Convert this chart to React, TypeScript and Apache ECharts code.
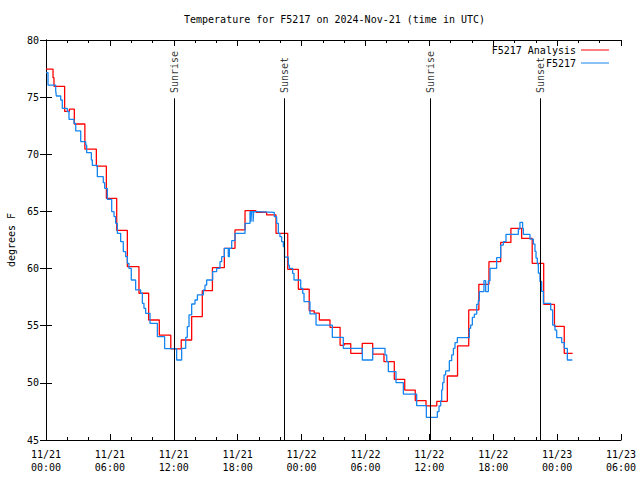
import React, { useEffect, useRef } from 'react';
import * as echarts from 'echarts';

// Hours since 2024-11-21 00:00 UTC
const dayLabels = ['11/21', '11/22', '11/23'];
const yTicks = { min: 45, max: 80, interval: 5 };
const xRange = { min: 0, max: 54, interval: 6 };

const analysisName = 'F5217 Analysis';
const obsName = 'F5217';

// F5217 Analysis (hour, degF)
const analysisData: [number, number][] = [
  [0, 77.45], [0.66, 76.7], [0.75, 75.95], [1.75, 73.75], [2.19, 73.95], [2.66, 72.65],
  [3.65, 70.45], [4.73, 68.97], [5.67, 66.15], [6.64, 63.35], [7.64, 60.17], [8.73, 57.84],
  [9.64, 55.5], [10.64, 54.17], [11.72, 52.97], [12.7, 53.75], [13.68, 55.8], [14.68, 58.07],
  [15.63, 60.08], [16.75, 61.77], [17.75, 63.38], [18.69, 65.07], [19.72, 64.93], [20.72, 64.69],
  [21.6, 63.08], [22.7, 59.93], [23.7, 58.19], [24.72, 56.3], [25.19, 56.1], [25.67, 55.5],
  [26.67, 54.86], [27.62, 53.28], [28.0, 53.42], [28.62, 52.58], [29.7, 53.46], [30.68, 52.52],
  [31.74, 51.85], [32.71, 50.31], [33.69, 49.37], [34.68, 48.45], [35.69, 47.98], [36.7, 48.38],
  [37.69, 50.6], [38.65, 53.23], [39.7, 56.38], [40.65, 58.62], [41.6, 60.6], [42.7, 62.29],
  [43.66, 63.52], [44.67, 62.64], [45.66, 60.46], [46.74, 56.87], [47.75, 54.95], [48.67, 52.58],
  [49.46, 52.58],
];

// F5217 observations (hour, degF)
const obsData: [number, number][] = [
  [0, 77.15], [0.19, 76.06], [0.91, 75.57], [0.97, 75.1], [1.38, 74.75], [1.53, 74.02],
  [2.0, 73.73], [2.16, 73.06], [2.63, 72.71], [2.79, 72.04], [3.26, 71.1], [3.73, 70.81],
  [3.82, 70.14], [4.26, 69.5], [4.35, 69.03], [4.82, 68.04], [5.38, 67.52], [5.51, 67.02],
  [5.76, 66.06], [6.17, 64.98], [6.39, 64.54], [6.54, 63.96], [6.7, 63.08], [7.01, 62.35],
  [7.26, 61.48], [7.48, 61.04], [7.64, 60.46], [7.79, 60.02], [8.01, 59.0], [8.42, 58.13],
  [8.89, 57.84], [9.05, 56.96], [9.2, 56.52], [9.36, 56.08], [9.77, 55.21], [10.46, 54.04],
  [11.14, 53.0], [12.27, 52.0], [12.74, 53.02], [13.12, 53.98], [13.27, 54.92], [13.43, 55.94],
  [13.68, 56.9], [13.99, 57.25], [14.22, 57.69], [14.78, 58.13], [14.93, 58.56], [15.09, 59.0],
  [15.65, 59.73], [16.03, 60.02], [16.34, 60.6], [16.5, 61.04], [16.75, 61.77], [17.12, 61.04],
  [17.22, 61.77], [17.44, 62.44], [17.75, 63.08], [18.69, 63.96], [19.16, 64.98], [19.25, 64.1],
  [19.3, 64.98], [19.45, 64.1], [19.5, 64.98], [19.78, 64.92], [21.44, 64.54], [21.66, 63.96],
  [21.82, 63.08], [21.97, 62.79], [22.13, 62.35], [22.29, 61.92], [22.4, 61.0], [22.76, 60.31],
  [22.85, 60.02], [23.16, 59.58], [23.29, 59.0], [23.92, 58.27], [24.11, 57.83], [24.23, 57.1],
  [24.79, 56.03], [25.36, 55.06], [26.89, 53.98], [27.92, 53.02], [29.71, 52.0], [30.68, 53.02],
  [31.84, 52.44], [32.0, 51.85], [32.15, 50.98], [32.87, 50.02], [33.56, 49.02], [34.81, 48.0],
  [35.72, 46.98], [36.75, 47.48], [36.91, 47.98], [37.07, 48.44], [37.16, 49.38], [37.25, 50.02],
  [37.38, 50.69], [37.53, 51.04], [37.88, 51.94], [38.1, 52.44], [38.26, 53.02], [38.41, 53.52],
  [38.63, 53.95], [39.76, 54.77], [39.88, 55.06], [40.04, 55.73], [40.23, 56.02], [40.45, 56.87],
  [40.6, 57.19], [40.7, 57.98], [41.13, 58.94], [41.29, 57.98], [41.54, 58.94], [41.7, 60.02],
  [42.32, 60.95], [42.7, 62.06], [42.95, 62.35], [43.2, 63.0], [44.36, 63.46], [44.51, 64.05],
  [44.76, 63.52], [44.83, 63.0], [45.45, 62.57], [45.77, 62.14], [45.92, 61.5], [46.02, 60.92],
  [46.14, 60.42], [46.24, 59.6], [46.39, 58.87], [46.55, 58.0], [46.71, 56.96], [47.4, 56.38],
  [47.58, 55.06], [47.8, 54.62], [47.96, 53.95], [48.43, 53.52], [48.68, 53.02], [48.96, 52.0],
  [49.43, 52.0],
];

// Sun events (hour)
const eventTimes = [12.05, 22.38, 36.1, 46.42];
const eventLabels = ['Sunrise', 'Sunset', 'Sunrise', 'Sunset'];
const eventLineTop = 74.9;
const eventLabelAnchor = 75.36;

const FONT = "'DejaVu Sans Mono', 'Liberation Mono', monospace";

function pad(n: number) {
  return n < 10 ? '0' + n : String(n);
}

export default function App() {
  const ref = useRef<HTMLDivElement>(null);

  useEffect(() => {
    if (!ref.current) return;
    const chart = echarts.init(ref.current, undefined, { renderer: 'svg' });

    const axisCommon = {
      axisLine: { show: true, lineStyle: { color: '#000', width: 1 } },
      splitLine: { show: false },
    };

    const option: any = {
      animation: false,
      backgroundColor: '#fff',
      title: {
        text: 'Temperature for F5217 on 2024-Nov-21 (time in UTC)',
        left: 184,
        top: 14,
        padding: 0,
        textStyle: { fontFamily: FONT, fontSize: 10, fontWeight: 'normal', color: '#000' },
      },
      legend: {
        orient: 'vertical',
        align: 'right',
        right: 31,
        top: 43.5,
        padding: 0,
        itemGap: 0,
        itemWidth: 28,
        itemHeight: 1,
        textStyle: { fontFamily: FONT, fontSize: 10, color: '#000', lineHeight: 13, height: 13 },
        data: [
          { name: analysisName, icon: 'rect' },
          { name: obsName, icon: 'rect' },
        ],
      },
      grid: { left: 46, right: 19, top: 40, bottom: 40, containLabel: false, outerBoundsMode: 'none' },
      xAxis: [
        {
          type: 'value',
          position: 'bottom',
          min: xRange.min,
          max: xRange.max,
          interval: xRange.interval,
          ...axisCommon,
          axisTick: { show: true, inside: true, length: 6, lineStyle: { color: '#000' } },
          minorTick: { show: true, splitNumber: 3, length: 3, lineStyle: { color: '#000' } },
          axisLabel: {
            margin: 8,
            fontFamily: FONT,
            fontSize: 10,
            color: '#000',
            lineHeight: 13,
            showMinLabel: true,
            showMaxLabel: true,
            formatter: (v: number) => `${dayLabels[Math.floor(v / 24)]}\n${pad(v % 24)}:00`,
          },
        },
        {
          type: 'value',
          position: 'top',
          min: xRange.min,
          max: xRange.max,
          interval: xRange.interval,
          ...axisCommon,
          axisTick: { show: true, inside: true, length: 6, lineStyle: { color: '#000' } },
          minorTick: { show: true, splitNumber: 3, length: 3, lineStyle: { color: '#000' } },
          axisLabel: { show: false },
        },
      ],
      yAxis: [
        {
          type: 'value',
          position: 'left',
          min: yTicks.min,
          max: yTicks.max,
          interval: yTicks.interval,
          ...axisCommon,
          axisTick: { show: true, inside: true, length: 6, lineStyle: { color: '#000' } },
          axisLabel: { margin: 7, fontFamily: FONT, fontSize: 10, color: '#000' },
          name: 'degrees F',
          nameLocation: 'middle',
          nameGap: 30,
          nameRotate: 90,
          nameTextStyle: { fontFamily: FONT, fontSize: 10, color: '#000' },
        },
        {
          type: 'value',
          position: 'right',
          min: yTicks.min,
          max: yTicks.max,
          interval: yTicks.interval,
          ...axisCommon,
          axisTick: { show: true, inside: true, length: 6, lineStyle: { color: '#000' } },
          axisLabel: { show: false },
        },
      ],
      series: [
        {
          name: analysisName,
          type: 'line',
          step: 'end',
          showSymbol: false,
          data: analysisData,
          lineStyle: { color: '#ff0000', width: 1.3 },
          itemStyle: { color: '#ff0000' },
          markLine: {
            silent: true,
            symbol: ['none', 'none'],
            label: { show: false },
            lineStyle: { color: '#000', width: 1, type: 'solid' },
            data: eventTimes.map((t) => [
              { coord: [t, eventLineTop] },
              { coord: [t, yTicks.min] },
            ]),
          },
        },
        {
          name: obsName,
          type: 'line',
          step: 'end',
          showSymbol: false,
          data: obsData,
          lineStyle: { color: '#1585f0', width: 1.3 },
          itemStyle: { color: '#1585f0' },
        },
        {
          name: 'events',
          type: 'scatter',
          symbolSize: 1,
          itemStyle: { color: 'rgba(0,0,0,0)' },
          silent: true,
          data: eventTimes.map((t, i) => [t, eventLabelAnchor, eventLabels[i]]),
          label: {
            show: true,
            position: 'inside',
            rotate: 90,
            align: 'left',
            verticalAlign: 'middle',
            fontFamily: FONT,
            fontSize: 10,
            color: '#000',
            formatter: (p: any) => p.value[2],
          },
        },
      ],
    };

    chart.setOption(option);
    return () => chart.dispose();
  }, []);

  return (
    <div
      ref={ref}
      style={{ position: 'fixed', left: 0, top: 0, width: 640, height: 480, background: '#fff' }}
    />
  );
}
